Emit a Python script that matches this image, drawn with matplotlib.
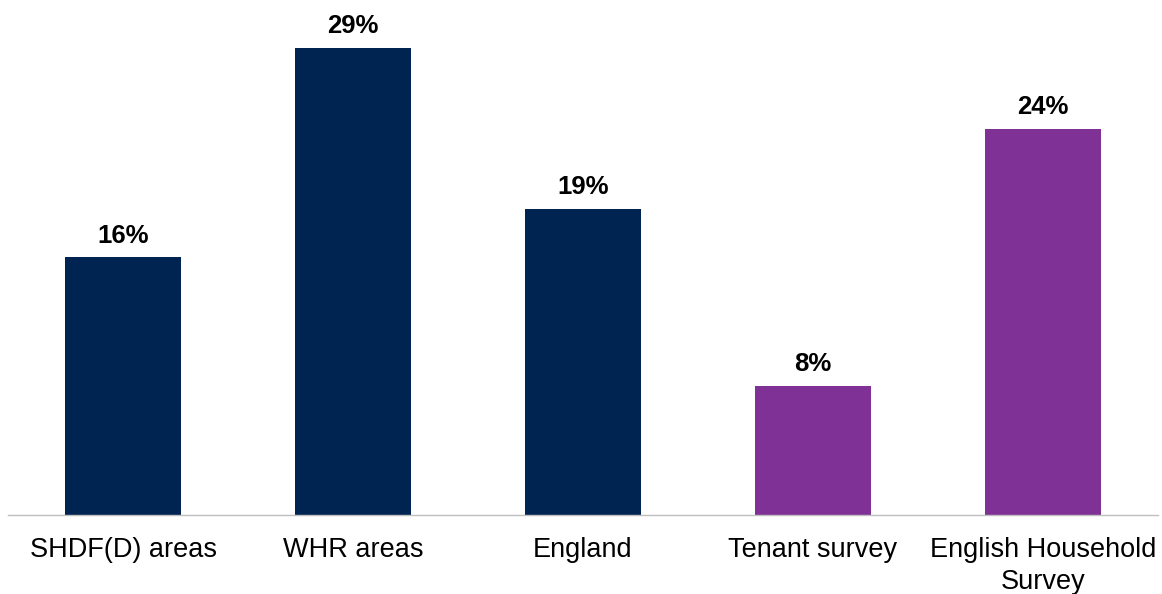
import matplotlib.pyplot as plt
import numpy as np

plt.rcParams['font.family'] = ['Liberation Sans', 'DejaVu Sans']

# share of households, by area / source
categories = ["SHDF(D) areas", "WHR areas", "England", "Tenant survey", "English Household\nSurvey"]
values = [16, 29, 19, 8, 24]
bar_colors = ["#002452", "#002452", "#002452", "#7F3196", "#7F3196"]

fig = plt.figure(figsize=(11.62, 5.94), dpi=100)
ax = fig.add_axes([8 / 1162, 79 / 594, 1150 / 1162, 483 / 594])

x = np.arange(len(categories))
bars = ax.bar(x, values, width=0.505, color=bar_colors)

for rect, v in zip(bars, values):
    ax.annotate(f"{v}%", (rect.get_x() + rect.get_width() / 2, v),
                xytext=(0, 7), textcoords="offset points",
                ha="center", va="bottom", fontsize=18.5, fontweight="bold", color="#000000")

ax.set_xlim(-0.5, len(categories) - 0.5)
ax.set_ylim(0, 30)
ax.set_xticks(x)
ax.set_xticklabels(categories, fontsize=19.5, color="#000000", linespacing=1.3)
ax.tick_params(axis="x", length=0, pad=16)
ax.set_yticks([])

for side in ["top", "right", "left"]:
    ax.spines[side].set_visible(False)
ax.spines["bottom"].set_color("#BFBFBF")
ax.spines["bottom"].set_linewidth(1.0)

plt.savefig("out.png", dpi=100, facecolor="white")
